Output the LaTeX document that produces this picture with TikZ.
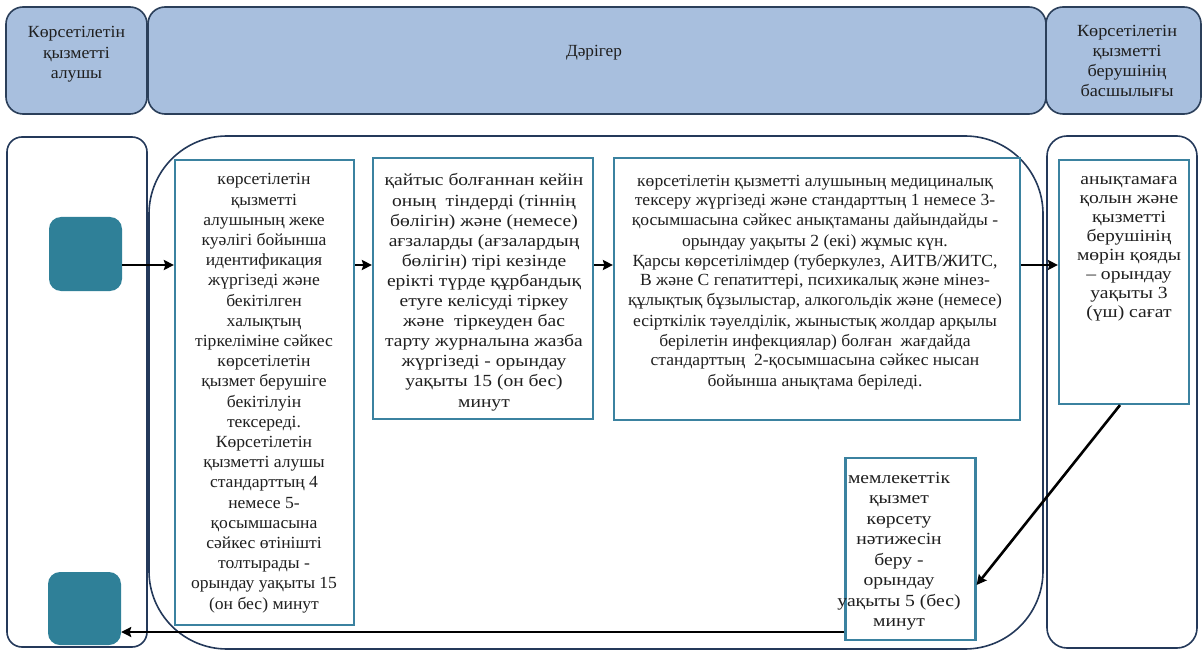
\documentclass[tikz,border=0pt]{standalone}
\usepackage{graphicx}
\usepackage{fontspec}
\setmainfont{Liberation Serif}
\usetikzlibrary{arrows.meta}
\definecolor{hdrfill}{HTML}{A8BFDE}
\definecolor{hdrline}{HTML}{2B3F5A}
\definecolor{laneline}{HTML}{24395A}
\definecolor{boxline}{HTML}{3B82A0}
\definecolor{tealfill}{HTML}{2F8098}
\newlength\reflen
% size, skip, target width of reference line, reference line, body
\newcommand\stext[5]{%
  \fontsize{#1}{#2}\selectfont
  \settowidth{\reflen}{#4}%
  \pgfmathsetmacro\sxfac{#3/\reflen}%
  \scalebox{\sxfac}[1]{\begin{tabular}{@{}c@{}}#5\end{tabular}}}
\tikzset{
  hdr/.style={draw=hdrline, fill=hdrfill, line width=1.6pt, rounded corners=17pt},
  lane/.style={draw=laneline, line width=1.6pt},
  txt/.style={inner sep=0pt, text=black!88},
  procbox/.style={draw=boxline, line width=2.2pt, fill=white, inner sep=0pt},
  termnode/.style={fill=tealfill, rounded corners=12pt, inner sep=0pt,
    minimum width=73pt, minimum height=74pt},
  arr/.style={line width=2.6pt, -{Stealth[length=10pt,width=10pt,inset=1.5pt]}}
}
\begin{document}
\begin{tikzpicture}[x=1pt,y=-1pt]
\useasboundingbox[fill=white] (0,0) rectangle (1204,652);
% headers
\draw[hdr] (6,7) rectangle (147,114);
\draw[hdr] (148,7) rectangle (1046,114);
\draw[hdr] (1046,7) rectangle (1201,114);
\node[txt] (h1) at (76.5,54) {\stext{17}{20.5}{97}{Көрсетілетін}{Көрсетілетін\\қызметті\\алушы}};
\node[txt] (h2) at (594,52) {\stext{17}{20.5}{56}{Дәрігер}{Дәрігер}};
\node[txt] (h3) at (1127,63) {\stext{17}{20}{100}{Көрсетілетін}{Көрсетілетін\\қызметті\\берушінің\\басшылығы}};
% lanes
\draw[lane, rounded corners=15pt] (7,137) rectangle (147,647);
\draw[lane, rounded corners=78pt] (149,136) rectangle (1043,649);
\draw[lane, rounded corners=20pt] (1047,136) rectangle (1197,648);
% terminals
\node[termnode] (start) at (85.5,254) {};
\node[termnode, minimum height=73pt] (stop) at (84.5,608.5) {};
% boxes
\node[procbox, minimum width=179pt, minimum height=465pt] (b1) at (264.5,392.5) {};
\node[procbox, minimum width=220pt, minimum height=261pt] (b2) at (483,288.5) {};
\node[procbox, minimum width=406pt, minimum height=262pt] (b3) at (817,289) {};
\node[procbox, minimum width=130pt, minimum height=244pt] (b4) at (1124,282) {};
\node[procbox, minimum width=130pt, minimum height=182pt] (b5) at (910.5,549) {};
% box texts
\node[txt] (t1) at (264,393) {\stext{17}{20.2}{146}{орындау уақыты 15}{көрсетілетін\\қызметті\\алушының жеке\\куәлігі бойынша\\идентификация\\жүргізеді және\\бекітілген\\халықтың\\тіркеліміне сәйкес\\көрсетілетін\\қызмет берушіге\\бекітілуін\\тексереді.\\Көрсетілетін\\қызметті алушы\\стандарттың 4\\немесе 5-\\қосымшасына\\сәйкес өтінішті\\толтырады -\\орындау уақыты 15\\(он бес) минут}};
\node[txt] (t2) at (484,292.5) {\stext{17}{20.1}{194}{ерікті түрде құрбандық}{қайтыс болғаннан кейін\\оның \ тіндерді (тіннің\\бөлігін) және (немесе)\\ағзаларды (ағзалардың\\бөлігін) тірі кезінде\\ерікті түрде құрбандық\\етуге келісуді тіркеу\\және \ тіркеуден бас\\тарту журналына жазба\\жүргізеді - орындау\\уақыты 15 (он бес)\\минут}};
\node[txt] (t3) at (815,282) {\stext{17}{20}{374}{құлықтық бұзылыстар, алкогольдік және (немесе)}{көрсетілетін қызметті алушының медициналық\\тексеру жүргізеді және стандарттың 1 немесе 3-\\қосымшасына сәйкес анықтаманы дайындайды -\\орындау уақыты 2 (екі) жұмыс күн.\\Қарсы көрсетілімдер (туберкулез, АИТВ/ЖИТС,\\В және С гепатиттері, психикалық және мінез-\\құлықтық бұзылыстар, алкогольдік және (немесе)\\есірткілік тәуелділік, жыныстық жолдар арқылы\\берілетін инфекциялар) болған \ жағдайда\\стандарттың \ 2-қосымшасына сәйкес нысан\\бойынша анықтама беріледі.}};
\node[txt] (t4) at (1129,247) {\stext{17}{19}{104}{мөрін қояды}{анықтамаға\\қолын және\\қызметті\\берушінің\\мөрін қояды\\– орындау\\уақыты 3\\(үш) сағат}};
\node[txt] (t5) at (899,551) {\stext{17}{20.5}{102}{мемлекеттік}{мемлекеттік\\қызмет\\көрсету\\нәтижесін\\беру -\\орындау\\уақыты 5 (бес)\\минут}};
% connectors
\draw[arr] (start.east |- 0,265) -- (b1.west |- 0,265);
\draw[arr] (b1.east |- 0,265) -- (b2.west |- 0,265);
\draw[arr] (b2.east |- 0,265) -- (b3.west |- 0,265);
\draw[arr] (b3.east |- 0,265) -- (b4.west |- 0,265);
\draw[arr] ([xshift=-4pt]b4.south) -- ([yshift=-36pt]b5.east);
\draw[arr] (b5.west |- 0,632) -- (stop.east |- 0,632);
\end{tikzpicture}
\end{document}
